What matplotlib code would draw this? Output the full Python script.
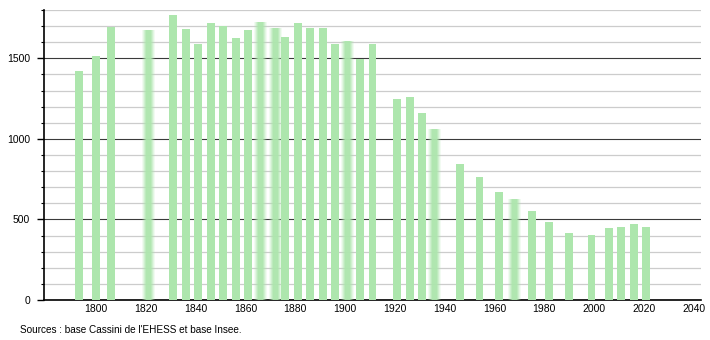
import matplotlib.pyplot as plt
from matplotlib.ticker import MultipleLocator

plt.rcParams['font.family'] = ['Liberation Sans', 'DejaVu Sans']

years = [1793, 1800, 1806, 1821, 1831, 1836, 1841, 1846, 1851, 1856, 1861,
         1866, 1872, 1876, 1881, 1886, 1891, 1896, 1901, 1906, 1911, 1921,
         1926, 1931, 1936, 1946, 1954, 1962, 1968, 1975, 1982, 1990, 1999,
         2006, 2011, 2016, 2021]
population = [1420, 1515, 1694, 1677, 1770, 1683, 1586, 1720, 1702, 1627, 1677,
              1727, 1689, 1634, 1720, 1689, 1689, 1592, 1607, 1495, 1592, 1248,
              1261, 1161, 1062, 847, 766, 673, 627, 555, 484, 416, 404,
              447, 451, 472, 453]
# bars that look soft / blurred in the original
blurred = [1821, 1866, 1872, 1901, 1936, 1968]

bar_color = '#ade6ad'

fig = plt.figure(figsize=(7.1, 3.4), dpi=100)
ax = fig.add_axes([44 / 710, 40 / 340, 657 / 710, 290 / 340])

sharp_x = [y for y in years if y not in blurred]
sharp_h = [p for y, p in zip(years, population) if y not in blurred]
ax.bar(sharp_x, sharp_h, width=3.2, color=bar_color, zorder=3)

soft_x = [y for y in years if y in blurred]
soft_h = [p for y, p in zip(years, population) if y in blurred]
for w, a in [(5.0, 0.15), (4.2, 0.22), (3.4, 0.35), (2.6, 0.5), (1.8, 0.8)]:
    ax.bar(soft_x, soft_h, width=w, color=bar_color, alpha=a, zorder=3, linewidth=0)

ax.set_xlim(1779, 2043)
ax.set_ylim(0, 1800)

ax.yaxis.set_major_locator(MultipleLocator(500))
ax.yaxis.set_minor_locator(MultipleLocator(100))
ax.set_xticks(range(1800, 2041, 20))

ax.grid(axis='y', which='minor', color='#cccccc', linewidth=0.9, zorder=1)
ax.grid(axis='y', which='major', color='#3a3a3a', linewidth=0.8, zorder=2)

for s in ['top', 'right']:
    ax.spines[s].set_visible(False)
ax.spines['left'].set_linewidth(1.2)
ax.spines['bottom'].set_linewidth(1.2)

ax.tick_params(axis='y', which='major', length=5, width=1, labelsize=7.5, pad=5)
ax.tick_params(axis='y', which='minor', length=2, width=0.8)
ax.tick_params(axis='x', length=0, labelsize=7.5, pad=3)

fig.text(20 / 710, 1 - 330 / 340, "Sources : base Cassini de l'EHESS et base Insee.",
         fontsize=7.2, va='center', ha='left')

fig.savefig('out.png', dpi=100)
